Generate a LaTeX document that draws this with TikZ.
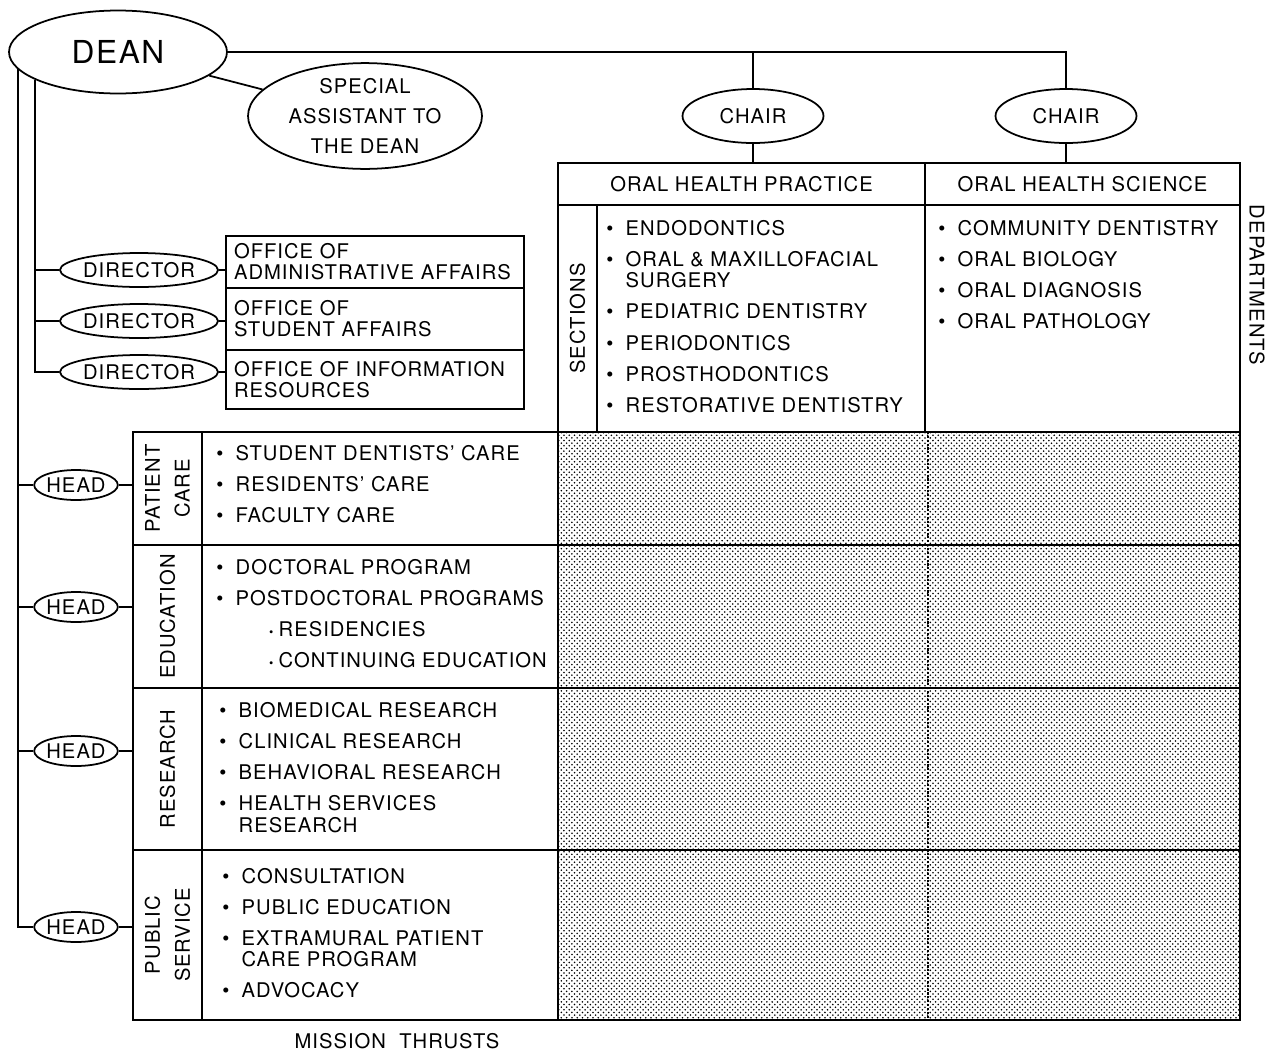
\documentclass[tikz,border=0pt]{standalone}
\usepackage{fontspec}
\setmainfont{TeX Gyre Heros}[LetterSpace=5]
\usetikzlibrary{shapes.geometric,patterns}
\newcommand{\bulletlist}[1]{\begin{tabular}[t]{@{}l@{\hspace{7pt}}l@{}}#1\end{tabular}}
\newcommand{\subbul}{\hspace{19pt}{\scriptsize\textbullet}\hspace{3pt}}

\begin{document}
\begin{tikzpicture}[x=0.02cm,y=-0.02cm]
  \tikzstyle{every node}=[font=\fontsize{11.5}{12}\selectfont]
  \tikzstyle{oval}=[ellipse,draw,line width=1pt,inner sep=0pt]
  \tikzstyle{office}=[draw,line width=1.2pt,anchor=north west,align=left,
    text width=5.64cm,inner xsep=0.16cm,inner ysep=0pt]
  \tikzstyle{dept}=[draw,line width=1.2pt,minimum height=0.84cm,inner sep=0pt]
  \tikzstyle{thrust}=[draw,line width=1.2pt,rotate=90,align=center,
    minimum height=1.38cm,inner sep=0pt,font=\fontsize{11.5}{17}\selectfont]
  \tikzstyle{cell}=[anchor=base west,inner sep=0pt]
  \tikzstyle{conn}=[line width=1pt]
  \tikzstyle{frame}=[line width=1.4pt]
  \useasboundingbox (0,0) rectangle (1274,1052);

  \node[oval,minimum width=4.36cm,minimum height=1.66cm,
    font=\fontsize{18}{20}\selectfont] (dean) at (118,52) {DEAN};
  \node[oval,minimum width=4.68cm,minimum height=1.64cm,align=center,
    font=\fontsize{11.5}{17}\selectfont] (assistant) at (365,116)
    {SPECIAL\\ASSISTANT TO\\THE DEAN};
  \node[oval,minimum width=2.82cm,minimum height=1.08cm] (chair1) at (753,116) {CHAIR};
  \node[oval,minimum width=2.82cm,minimum height=1.08cm] (chair2) at (1066,116) {CHAIR};

  % directors and offices
  \node[oval,minimum width=3.08cm,minimum height=0.68cm] (dir1) at (139,270) {DIRECTOR};
  \node[oval,minimum width=3.08cm,minimum height=0.68cm] (dir2) at (139,321) {DIRECTOR};
  \node[oval,minimum width=3.08cm,minimum height=0.68cm] (dir3) at (139,372) {DIRECTOR};
  \node[office,minimum height=1.04cm] (admin) at (225,235) {OFFICE OF\\ADMINISTRATIVE AFFAIRS};
  \node[office,minimum height=1.24cm] (student) at (225,287) {OFFICE OF\\STUDENT AFFAIRS};
  \node[office,minimum height=1.18cm] (info) at (225,349) {OFFICE OF INFORMATION\\RESOURCES};

  % departments
  \draw[frame] (558,163) rectangle (1240,432);
  \node[dept,minimum width=7.34cm] (practice) at (741.5,184) {ORAL HEALTH PRACTICE};
  \node[dept,minimum width=6.3cm] (science) at (1082.5,184) {ORAL HEALTH SCIENCE};
  \node[thrust,minimum width=4.54cm,minimum height=0.78cm] (sections) at (577.5,318.5) {SECTIONS};
  \draw[frame] (925,205) -- (925,432);
  \node[cell] (practicelist) at (606,235) {\bulletlist{
    \textbullet & ENDODONTICS\\[5.6pt]
    \textbullet & ORAL \& MAXILLOFACIAL\\ & SURGERY\\[5.6pt]
    \textbullet & PEDIATRIC DENTISTRY\\[5.6pt]
    \textbullet & PERIODONTICS\\[5.6pt]
    \textbullet & PROSTHODONTICS\\[5.6pt]
    \textbullet & RESTORATIVE DENTISTRY}};
  \node[cell] (sciencelist) at (938,235) {\bulletlist{
    \textbullet & COMMUNITY DENTISTRY\\[5.6pt]
    \textbullet & ORAL BIOLOGY\\[5.6pt]
    \textbullet & ORAL DIAGNOSIS\\[5.6pt]
    \textbullet & ORAL PATHOLOGY}};
  \node[rotate=-90] (departments) at (1257,285) {DEPARTMENTS};

  % mission thrusts
  \fill[pattern=crosshatch dots,pattern color=black] (558,432) rectangle (1240,1020);
  \draw[densely dotted,line width=1.2pt] (928,432) -- (928,1020);
  \draw[frame] (133,432) rectangle (1240,1020);
  \draw[frame] (558,432) -- (558,1020);
  \foreach \y in {545,688,850} \draw[frame] (133,\y) -- (1240,\y);
  \node[thrust,minimum width=2.26cm] (care) at (167.5,488.5) {PATIENT\\CARE};
  \node[thrust,minimum width=2.86cm] (education) at (167.5,616.5) {EDUCATION};
  \node[thrust,minimum width=3.24cm] (research) at (167.5,769) {RESEARCH};
  \node[thrust,minimum width=3.4cm] (public) at (167.5,935) {PUBLIC\\SERVICE};
  \node[cell] (carelist) at (216,460) {\bulletlist{
    \textbullet & STUDENT DENTISTS' CARE\\[5.6pt]
    \textbullet & RESIDENTS' CARE\\[5.6pt]
    \textbullet & FACULTY CARE}};
  \node[cell] (educationlist) at (216,574) {\bulletlist{
    \textbullet & DOCTORAL PROGRAM\\[5.6pt]
    \textbullet & POSTDOCTORAL PROGRAMS\\[5.6pt]
    & \subbul RESIDENCIES\\[5.6pt]
    & \subbul CONTINUING EDUCATION}};
  \node[cell] (researchlist) at (219,717) {\bulletlist{
    \textbullet & BIOMEDICAL RESEARCH\\[5.6pt]
    \textbullet & CLINICAL RESEARCH\\[5.6pt]
    \textbullet & BEHAVIORAL RESEARCH\\[5.6pt]
    \textbullet & HEALTH SERVICES\\ & RESEARCH}};
  \node[cell] (publiclist) at (222,883) {\bulletlist{
    \textbullet & CONSULTATION\\[5.6pt]
    \textbullet & PUBLIC EDUCATION\\[5.6pt]
    \textbullet & EXTRAMURAL PATIENT\\ & CARE PROGRAM\\[5.6pt]
    \textbullet & ADVOCACY}};
  \node (mission) at (397,1041) {MISSION\ \ THRUSTS};

  \node[oval,minimum width=1.56cm,minimum height=0.6cm] (head1) at (76,485) {HEAD};
  \node[oval,minimum width=1.56cm,minimum height=0.6cm] (head2) at (76,607) {HEAD};
  \node[oval,minimum width=1.56cm,minimum height=0.6cm] (head3) at (76,751) {HEAD};
  \node[oval,minimum width=1.56cm,minimum height=0.6cm] (head4) at (76,927) {HEAD};

  % connectors
  \coordinate (outer) at (18,69);
  \coordinate (inner) at (35,80);
  \draw[conn] (dean.east) -| (chair2.north);
  \draw[conn] (chair1.north) -- (chair1.north |- dean.east);
  \draw[conn] (dean) -- (assistant);
  \draw[conn] (chair1.south) -- (chair1.south |- practice.north);
  \draw[conn] (chair2.south) -- (chair2.south |- science.north);
  \draw[conn] (inner) |- (dir3.west);
  \draw[conn] (outer) |- (head4.west);
  \foreach \d in {dir1,dir2} \draw[conn] (\d.west) -- (\d.west -| inner);
  \foreach \h in {head1,head2,head3} \draw[conn] (\h.west) -- (\h.west -| outer);
  \foreach \d/\o in {dir1/admin,dir2/student,dir3/info}
    \draw[conn] (\d.east) -- (\d.east -| \o.west);
  \foreach \h/\t in {head1/care,head2/education,head3/research,head4/public}
    \draw[conn] (\h.east) -- (\h.east -| \t.north);
\end{tikzpicture}
\end{document}
